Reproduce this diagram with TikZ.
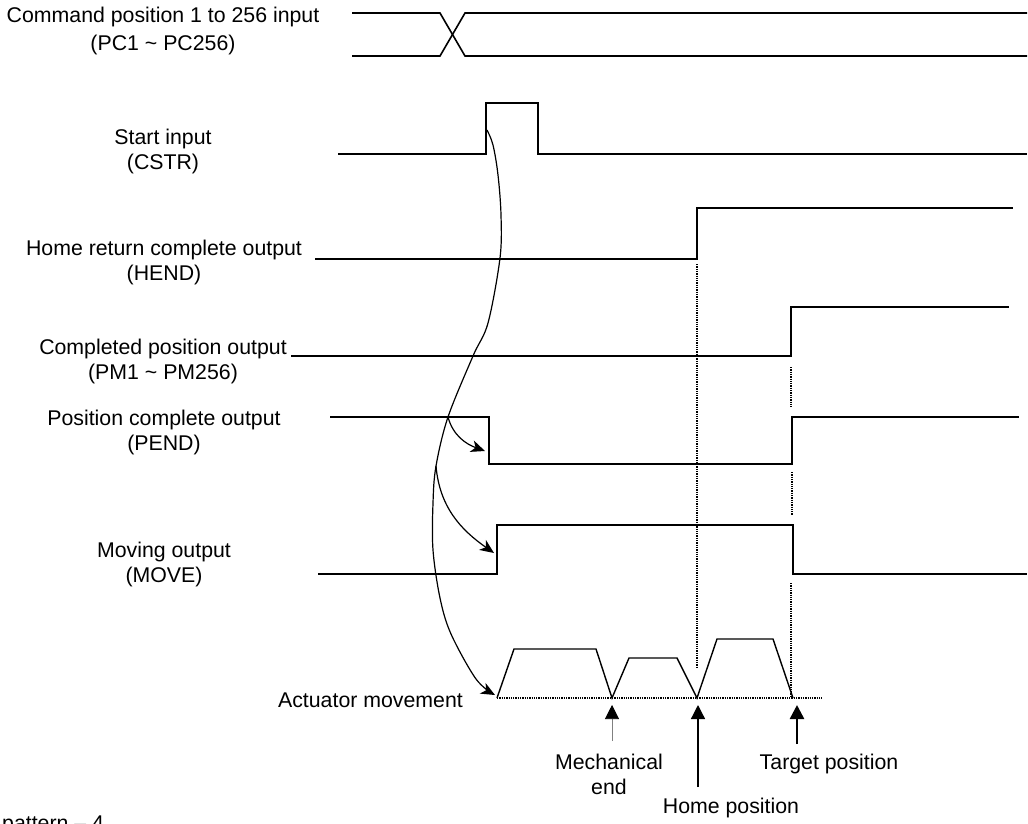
\documentclass[tikz,border=0pt]{standalone}
\usepackage{fontspec}
\setmainfont{Liberation Sans}
\usetikzlibrary{arrows.meta}

\begin{document}
\begin{tikzpicture}[x=1pt,y=-1pt,
  wave/.style={line width=1.6pt, line join=miter},
  guide/.style={densely dotted, line width=1.3pt},
  lbl/.style={font=\fontsize{21.3}{25}\selectfont, align=center, inner sep=0pt},
  flow/.style={line width=1.2pt, -{Stealth[length=14pt,width=12pt,inset=4pt]}},
  upmark/.style={-{Triangle[length=14pt,width=14pt,color=black]}}]
\useasboundingbox (0,0) rectangle (1028,823);
% Signal names
\node[lbl] (cmdlbl) at (163,31) {Command position 1 to 256 input\\[3pt](PC1 \textasciitilde{} PC256)};
\node[lbl] (cstrlbl) at (163,151) {Start input\\(CSTR)};
\node[lbl] (hendlbl) at (164,262) {Home return complete output\\(HEND)};
\node[lbl] (pmlbl) at (163,361) {Completed position output\\(PM1 \textasciitilde{} PM256)};
\node[lbl] (pendlbl) at (164,432) {Position complete output\\(PEND)};
\node[lbl] (movelbl) at (164,564) {Moving output\\(MOVE)};
\node[lbl, anchor=east] (actlbl) at (463,700) {Actuator movement};
% Waveforms
\draw[wave] (352,13) -- (440,13) -- (465,56) -- (1027,56);
\draw[wave] (352,56) -- (440,56) -- (465,13) -- (1027,13);
\draw[wave] (338,154) -- (486,154) -- (486,103) -- (538,103) -- (538,154) -- (1027,154);
\draw[wave] (315,259) -- (697,259) -- (697,208) -- (1013,208);
\draw[wave] (291,356) -- (791,356) -- (791,307) -- (1009,307);
\draw[wave] (330,417) -- (489,417) -- (489,464) -- (792,464) -- (792,417) -- (1019,417);
\draw[wave] (318,574) -- (497,574) -- (497,525) -- (793,525) -- (793,574) -- (1027,574);
% Actuator movement profile
\coordinate (act0) at (497,698);
\coordinate (mech) at (612,698);
\coordinate (home) at (697,698);
\coordinate (target) at (793,698);
\coordinate (actend) at (822,698);
\draw[wave, line width=1.4pt] (act0) -- (514,649) -- (596,649) -- (mech) -- (629,658) -- (677,658)
  -- (home) -- (717,639) -- (773,639) -- (target);
\draw[guide] (act0) -- (actend);
% Timing guides
\draw[guide] (697,264) -- (697,668);
\draw[guide] (791,367) -- (791,408);
\draw[guide] (792,472) -- (792,515);
\draw[guide] (791,583) -- (791,696);
% Cause arrows
\coordinate (cstrup) at (487,130);
\coordinate (pendbr) at (448,417);
\coordinate (movebr) at (436,466);
\coordinate (pendtip) at (485,451);
\coordinate (movetip) at (494,553);
\draw[flow] plot[smooth, tension=0.55] coordinates {(cstrup) (493,145) (498,175) (501,215) (500,258) (488,323)
  (473,356) (pendbr) (movebr) (433,503) (433,550) (440,598) (451,634) (476,679) (495,695)};
\draw[flow] (pendbr) to[out=-75, in=160] (pendtip);
\draw[flow] (movebr) to[out=-85, in=145] (movetip);
% Position marks
\coordinate (mechfoot) at (612,741);
\coordinate (mechhead) at (612,705);
\coordinate (homefoot) at (698,787);
\coordinate (homehead) at (698,705);
\coordinate (targetfoot) at (797,744);
\coordinate (targethead) at (797,705);
\draw[upmark, gray, line width=0.6pt] (mechfoot) -- (mechhead);
\draw[upmark, line width=1.3pt] (homefoot) -- (homehead);
\draw[upmark, line width=2.6pt] (targetfoot) -- (targethead);
\node[lbl] (mechlbl) at (609,774) {Mechanical\\end};
\node[lbl] (homelbl) at (731,808) {Home position};
\node[lbl] (targetlbl) at (829,764) {Target position};
\node[lbl, anchor=base west] (patlbl) at (2,830) {pattern – 4};
\end{tikzpicture}
\end{document}
